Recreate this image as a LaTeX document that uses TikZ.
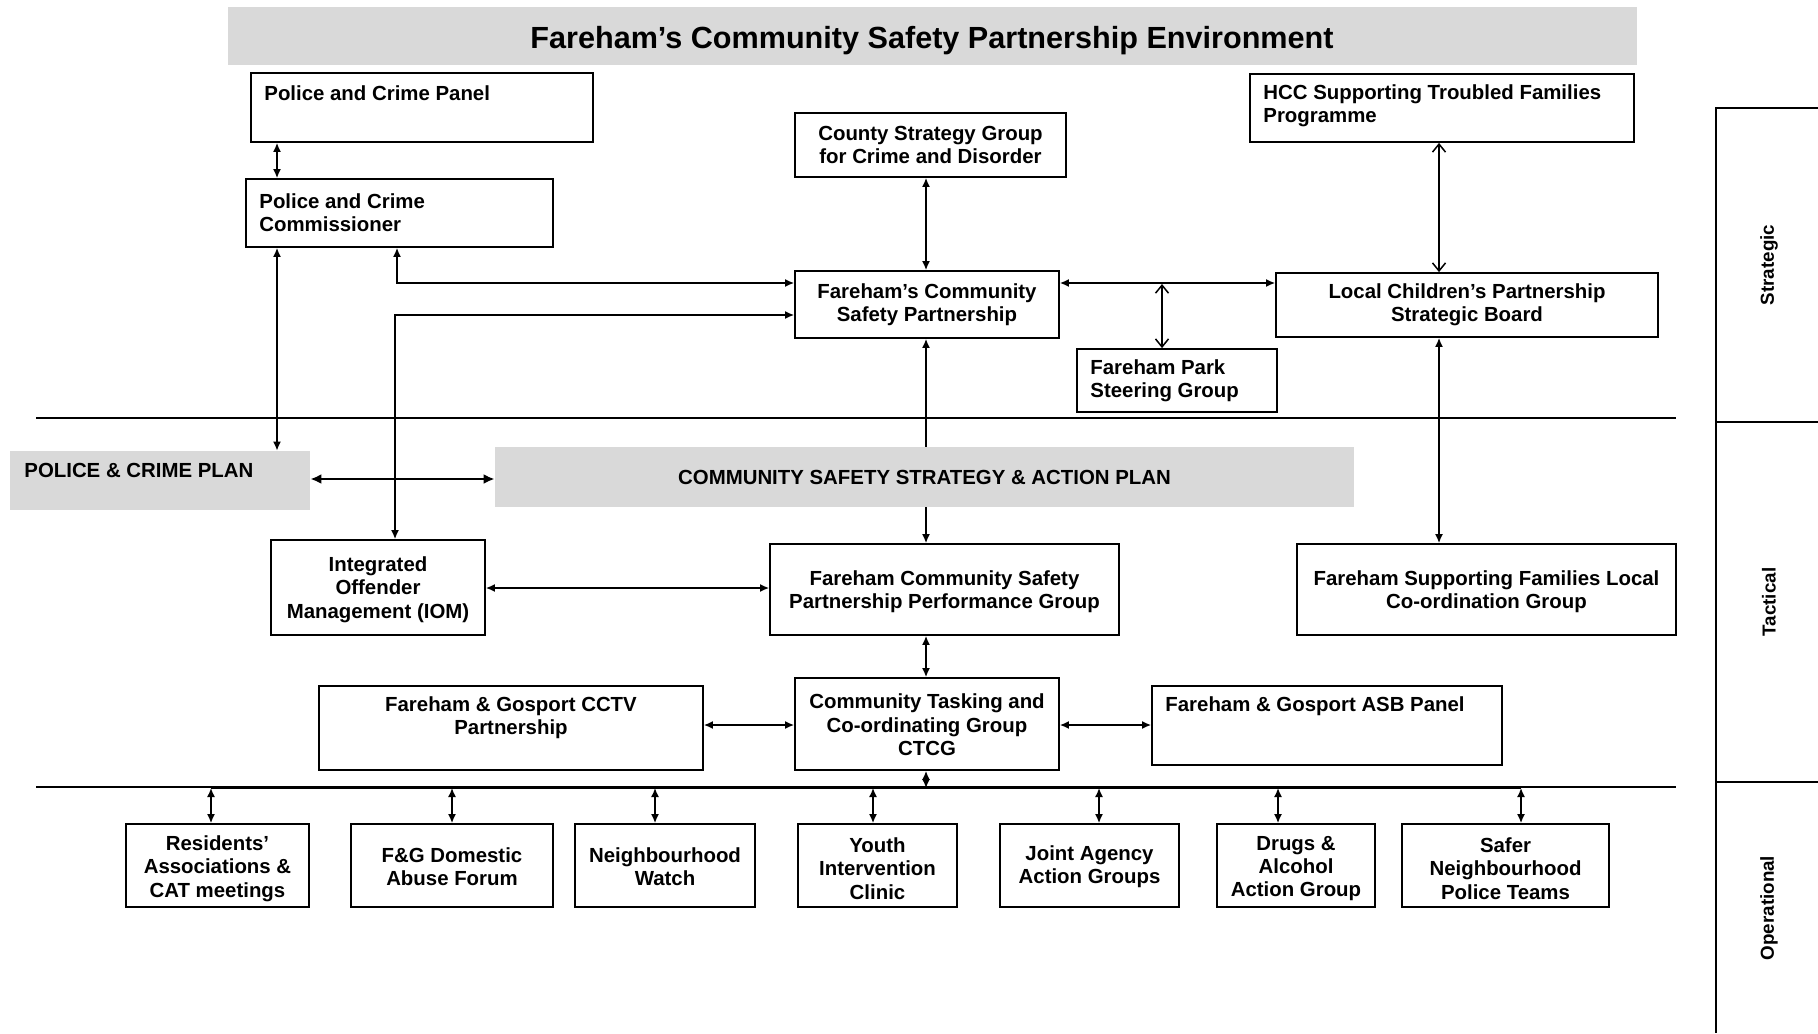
\documentclass[tikz,border=0pt]{standalone}
\usepackage{fontspec}
\setmainfont{Liberation Sans}
\usetikzlibrary{arrows.meta,fit,calc}
\newcommand\mkbox[5]{\node[box, fit={(#2,#3) (#4,#5)}] (#1) {};}
\newcommand\mkgray[5]{\node[graybox, fit={(#2,#3) (#4,#5)}] (#1) {};}
\begin{document}
\begin{tikzpicture}[x=0.5pt,y=-0.5pt,
  box/.style={draw, line width=0.9pt, inner sep=0pt},
  graybox/.style={fill=black!15, draw=none, inner sep=0pt},
  txt/.style={font={\fontsize{10.2}{11.7}\selectfont\bfseries}, inner sep=0pt, align=center},
  ltxt/.style={txt, align=left, anchor=west},
  side/.style={font={\fontsize{9.4}{11}\selectfont\bfseries}, inner sep=0pt, rotate=90},
  conn/.style={line width=0.75pt, {Latex[length=4.5pt,width=4pt]}-{Latex[length=4.5pt,width=4pt]}},
  thickconn/.style={line width=1.3pt, {Latex[length=5.5pt,width=5pt]}-{Latex[length=5.5pt,width=5pt]}},
  tip/.style={line width=0.75pt, -{Latex[length=4.5pt,width=4pt]}},
  oconn/.style={line width=0.75pt, {Straight Barb[length=4pt,width=6.5pt]}-{Straight Barb[length=4pt,width=6.5pt]}},
  rule/.style={line width=0.75pt}
]
\useasboundingbox (0,0) rectangle (1818,1033);

% title
\mkgray{title}{228}{7}{1637}{65}
\node[inner sep=0pt, font={\fontsize{15.3}{18}\selectfont\bfseries}] (titlet) at (932,41) {Fareham’s Community Safety Partnership Environment};

% rules
\coordinate (r1L) at (36,418); \coordinate (r1R) at (1676,418);
\coordinate (r2L) at (36,787); \coordinate (r2R) at (1676,787);
\draw[rule] (r1L) -- (r1R);
\draw[rule] (r2L) -- (r2R);
\coordinate (busL) at (211,788); \coordinate (busR) at (1521,788);
\draw[line width=1.4pt] (busL) -- (busR);

% side panel
\coordinate (sp1) at (1716,108); \coordinate (sp2) at (1818,108);
\coordinate (sp3) at (1716,1033);
\coordinate (sp4) at (1716,422); \coordinate (sp5) at (1818,422);
\coordinate (sp6) at (1716,782); \coordinate (sp7) at (1818,782);
\draw[rule] (sp2) -- (sp1) -- (sp3);
\draw[rule] (sp4) -- (sp5);
\draw[rule] (sp6) -- (sp7);
\node[side] (lblS) at (1769,265) {Strategic};
\node[side] (lblT) at (1769,602) {Tactical};
\node[side] (lblO) at (1769,908) {Operational};

% boxes
\mkbox{panel}{251}{73}{593}{142}
\node[ltxt] (panelt) at (264,93) {Police and Crime Panel};
\mkbox{pcc}{246}{179}{553}{247}
\node[ltxt] (pcct) at (259,213) {Police and Crime\\Commissioner};
\mkbox{csg}{795}{113}{1066}{177}
\node[txt] (csgt) at (csg) {County Strategy Group\\for Crime and Disorder};
\mkbox{hcc}{1250}{74}{1634}{142}
\node[ltxt] (hcct) at (1263,106) {HCC Supporting Troubled Families\\Programme};
\mkbox{csp}{795}{271}{1059}{338}
\node[txt] (cspt) at (csp) {Fareham's Community\\Safety Partnership};
\mkbox{lcpsb}{1276}{273}{1658}{337}
\node[txt] (lcpsbt) at (lcpsb) {Local Children's Partnership\\Strategic Board};
\mkbox{fpsg}{1077}{349}{1277}{412}
\node[ltxt] (fpsgt) at (1090,381) {Fareham Park\\Steering Group};

\mkgray{pcp}{10}{451}{310}{510}
\node[ltxt] (pcpt) at (24,470) {POLICE \& CRIME PLAN};
\mkgray{cssap}{495}{447}{1354}{507}
\node[txt] (cssapt) at (cssap) {COMMUNITY SAFETY STRATEGY \& ACTION PLAN};

\mkbox{iom}{271}{540}{485}{635}
\node[txt] (iomt) at ($(iom)+(0,2)$) {Integrated\\Offender\\Management (IOM)};
\mkbox{perf}{770}{544}{1119}{635}
\node[txt] (perft) at ($(perf)+(0,2)$) {Fareham Community Safety\\Partnership Performance Group};
\mkbox{fsf}{1297}{544}{1676}{635}
\node[txt] (fsft) at ($(fsf)+(0,2)$) {Fareham Supporting Families Local\\Co-ordination Group};

\mkbox{cctv}{319}{686}{703}{770}
\node[txt] (cctvt) at (511,718) {Fareham \& Gosport CCTV\\Partnership};
\mkbox{ctcg}{795}{678}{1059}{770}
\node[txt] (ctcgt) at ($(ctcg)+(0,1)$) {Community Tasking and\\Co-ordinating Group\\CTCG};
\mkbox{asb}{1152}{686}{1502}{765}
\node[ltxt] (asbt) at (1165,706) {Fareham \& Gosport ASB Panel};

\mkbox{res}{126}{824}{309}{907}
\node[txt] (rest) at ($(res)+(0,3)$) {Residents'\\Associations \&\\CAT meetings};
\mkbox{dom}{351}{824}{553}{907}
\node[txt] (domt) at ($(dom)+(0,1)$) {F\&G Domestic\\Abuse Forum};
\mkbox{nw}{575}{824}{755}{907}
\node[txt] (nwt) at ($(nw)+(0,1)$) {Neighbourhood\\Watch};
\mkbox{yic}{798}{824}{957}{907}
\node[txt] (yict) at ($(yic)+(0,3)$) {Youth\\Intervention\\Clinic};
\mkbox{jag}{1000}{824}{1179}{907}
\node[txt] (jagt) at ($(jag)+(0,1)$) {Joint Agency\\Action Groups};
\mkbox{daag}{1217}{824}{1375}{907}
\node[txt] (daagt) at ($(daag)+(0,3)$) {Drugs \&\\Alcohol\\Action Group};
\mkbox{snpt}{1402}{824}{1609}{907}
\node[txt] (snptt) at ($(snpt)+(0,3)$) {Safer\\Neighbourhood\\Police Teams};

% helper coordinates
\coordinate (xA) at (277,0);
\coordinate (xB) at (397,0);
\coordinate (xC) at (395,0);
\coordinate (xD) at (926,0);
\coordinate (xF) at (1439,0);
\coordinate (yA) at (0,283);
\coordinate (yB) at (0,315);
\coordinate (yC) at (0,479);
\coordinate (yD) at (0,588);
\coordinate (yE) at (0,725);
\coordinate (fpj) at (1162,284);
\coordinate (busD) at (926,788);

% connectors
\draw[conn] (panel.south -| xA) -- (pcc.north -| xA);
\draw[conn] (pcc.south -| xA) -- (pcp.north -| xA);
\draw[conn] (pcc.south -| xB) |- (csp.west |- yA);
\draw[conn] (iom.north -| xC) |- (csp.west |- yB);
\draw[conn] (csg.south -| xD) -- (csp.north -| xD);
\draw[tip] (cssap.north -| xD) -- (csp.south -| xD);
\draw[tip] (cssap.south -| xD) -- (perf.north -| xD);
\draw[conn] (perf.south -| xD) -- (ctcg.north -| xD);
\draw[conn] (ctcg.south -| xD) -- (busD);
\draw[thickconn] (pcp.east |- yC) -- (cssap.west |- yC);
\draw[conn] (iom.east |- yD) -- (perf.west |- yD);
\draw[conn] (cctv.east |- yE) -- (ctcg.west |- yE);
\draw[conn] (ctcg.east |- yE) -- (asb.west |- yE);
\draw[conn] (csp.east |- yA) -- (lcpsb.west |- yA);
\draw[oconn] (fpj) -- (fpsg.north -| fpj);
\draw[oconn] (hcc.south -| xF) -- (lcpsb.north -| xF);
\draw[conn] (lcpsb.south -| xF) -- (fsf.north -| xF);

\foreach \n/\x in {res/211, dom/452, nw/655, yic/873, jag/1099, daag/1278, snpt/1521}{
  \coordinate (bx\n) at (\x,788);
  \draw[conn] (bx\n) -- (bx\n |- \n.north);
}
\end{tikzpicture}
\end{document}
